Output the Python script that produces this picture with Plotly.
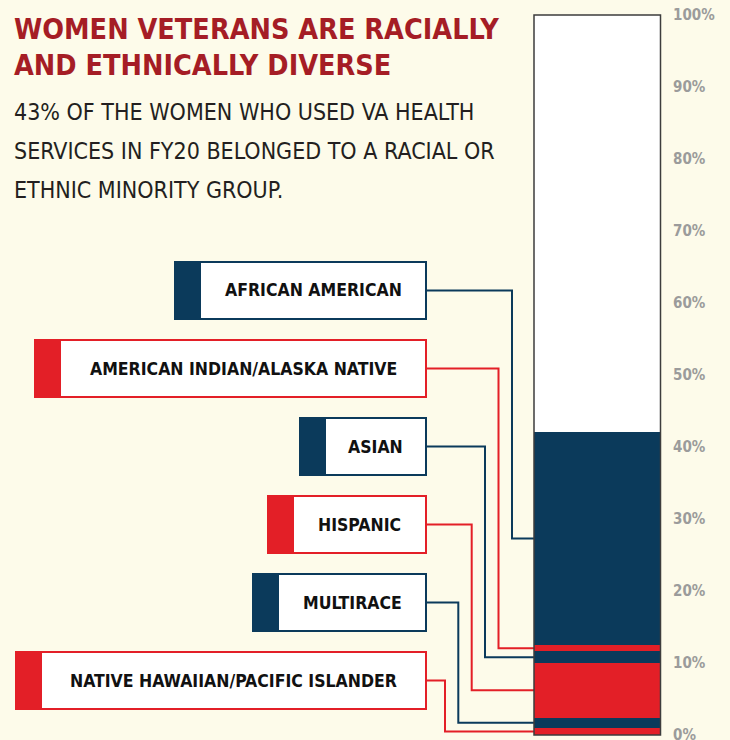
import plotly.graph_objects as go

# ---- data (bottom of bar to top) ----
categories = ["NATIVE HAWAIIAN/PACIFIC ISLANDER", "MULTIRACE", "HISPANIC", "ASIAN",
              "AMERICAN INDIAN/ALASKA NATIVE", "AFRICAN AMERICAN"]
values = [1.0, 1.4, 7.6, 1.6, 0.9, 29.6]
tick_values = [0, 10, 20, 30, 40, 50, 60, 70, 80, 90, 100]
tick_labels = ["0%", "10%", "20%", "30%", "40%", "50%", "60%", "70%", "80%", "90%", "100%"]
title_lines = ["WOMEN VETERANS ARE RACIALLY", "AND ETHNICALLY DIVERSE"]
subtitle_lines = ["43% OF THE WOMEN WHO USED VA HEALTH",
                  "SERVICES IN FY20 BELONGED TO A RACIAL OR",
                  "ETHNIC MINORITY GROUP."]

# ---- styles ----
NAVY = "#0b3a5b"
RED = "#e31f27"
colors = [RED, NAVY, RED, NAVY, RED, NAVY]
BG = "#fdfbea"
W, H = 730, 740
NARROW = "DejaVu Sans Condensed, Liberation Sans Narrow, sans-serif"

# pixel geometry (layout)
Y0PIX, Y100PIX = 735, 15
span = 100 * H / (Y0PIX - Y100PIX)
r0 = -(H - Y0PIX) / H * span
r1 = r0 + span


def pix_to_val(yp):
    return r0 + (H - yp) / H * span


BAR_L, BAR_R = 534, 660.5
BOX_R = 426
STUB = 25
BOX_H = 57
# per category (same order as data): box left, box top, connector vertical x
box_left = [16, 253, 268, 300, 35, 175]
box_top = [652, 574, 496, 418, 340, 262]
conn_x = [445, 458.3, 471.7, 485, 498.5, 512]

fig = go.Figure()

# stacked bar segments
cum = 0
mids = []
for cat, v, c in zip(categories, values, colors):
    fig.add_trace(go.Bar(x=[(BAR_L + BAR_R) / 2], y=[v], width=[BAR_R - BAR_L],
                         marker=dict(color=c, line=dict(width=0)), name=cat,
                         hoverinfo="skip", showlegend=False))
    mids.append(cum + v / 2)
    cum += v
fig.add_trace(go.Bar(x=[(BAR_L + BAR_R) / 2], y=[100 - cum], width=[BAR_R - BAR_L],
                     marker=dict(color="white", line=dict(width=0)),
                     hoverinfo="skip", showlegend=False))

shapes = []
annotations = []

# connectors, boxes and labels
for i, cat in enumerate(categories):
    c = colors[i]
    top = box_top[i]
    mid_pix = top + BOX_H / 2
    mid_val = pix_to_val(mid_pix)
    fig.add_trace(go.Scatter(x=[BOX_R, conn_x[i], conn_x[i], BAR_L],
                             y=[mid_val, mid_val, mids[i], mids[i]],
                             mode="lines", line=dict(color=c, width=2),
                             hoverinfo="skip", showlegend=False))
    shapes.append(dict(type="rect", xref="x", yref="paper",
                       x0=box_left[i], x1=BOX_R, y0=1 - (top + BOX_H) / H, y1=1 - top / H,
                       fillcolor="white", line=dict(color=c, width=2), layer="above"))
    shapes.append(dict(type="rect", xref="x", yref="paper",
                       x0=box_left[i], x1=box_left[i] + STUB, y0=1 - (top + BOX_H) / H, y1=1 - top / H,
                       fillcolor=c, line=dict(color=c, width=2), layer="above"))
    annotations.append(dict(x=(box_left[i] + STUB + BOX_R) / 2, y=1 - mid_pix / H,
                            xref="x", yref="paper", text="<b>" + cat + "</b>",
                            showarrow=False, xanchor="center", yanchor="middle",
                            font=dict(family=NARROW, size=17.5, color="#111111")))

# bar outline
shapes.append(dict(type="rect", xref="x", yref="y", x0=BAR_L, x1=BAR_R, y0=0, y1=100,
                   line=dict(color="#3d3d3d", width=1.5), layer="above"))

# title & subtitle
for j, t in enumerate(title_lines):
    annotations.append(dict(x=12 / W, y=1 - (29 + 37 * j) / H, xref="paper", yref="paper",
                            text="<b>" + t + "</b>", showarrow=False, xanchor="left",
                            yanchor="middle",
                            font=dict(family=NARROW, size=28.5, color="#a51d25")))
for j, t in enumerate(subtitle_lines):
    annotations.append(dict(x=12 / W, y=1 - (112 + 39 * j) / H, xref="paper", yref="paper",
                            text=t, showarrow=False, xanchor="left", yanchor="middle",
                            font=dict(family=NARROW, size=23, color="#231f20")))

fig.update_layout(
    width=W, height=H, margin=dict(l=0, r=0, t=0, b=0, autoexpand=False),
    paper_bgcolor=BG, plot_bgcolor=BG, barmode="stack", bargap=0,
    xaxis=dict(range=[0, W], visible=False, fixedrange=True, automargin=False),
    yaxis=dict(range=[r0, r1], anchor="free", position=672 / W, side="right",
               showgrid=False, zeroline=False, showline=False, ticks="",
               automargin=False, ticklabeloverflow="allow",
               tickvals=tick_values, ticktext=["<b>" + t + "</b>" for t in tick_labels],
               tickfont=dict(family=NARROW, size=15, color="#9b9b9b"), fixedrange=True),
    shapes=shapes, annotations=annotations, showlegend=False,
)

fig.write_html(
    "out.html", config={"displayModeBar": False},
    post_script="document.body.style.margin='0px';document.body.style.overflow='hidden';",
)
